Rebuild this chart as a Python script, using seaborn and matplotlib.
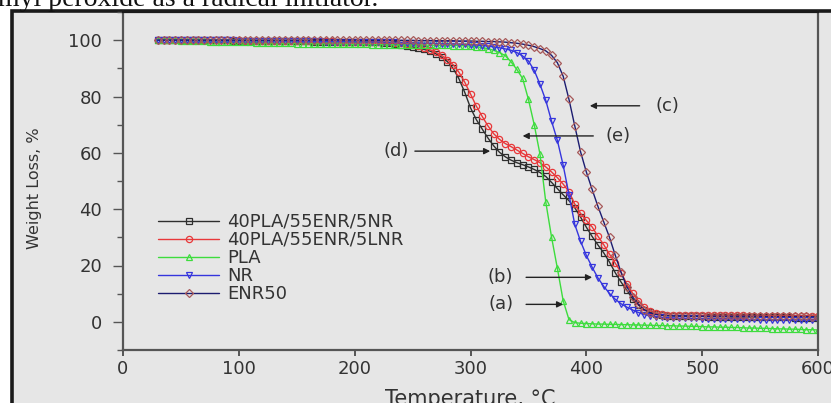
import numpy as np
import pandas as pd
import matplotlib
matplotlib.use("Agg")
import matplotlib.pyplot as plt
from matplotlib.patches import Rectangle
from matplotlib.ticker import MultipleLocator
import seaborn as sns

# ---------------- data ----------------
temperature = list(range(30, 601, 5))  # measurement grid, degC

w_5nr = [100.0, 100.0, 100.0, 100.0, 100.0, 99.9, 99.9, 99.9, 99.9, 99.9,
         99.9, 99.9, 99.9, 99.8, 99.8, 99.8, 99.8, 99.8, 99.8, 99.7,
         99.7, 99.7, 99.7, 99.6, 99.6, 99.6, 99.6, 99.5, 99.5, 99.5,
         99.5, 99.4, 99.4, 99.4, 99.3, 99.3, 99.3, 99.2, 99.2, 99.1,
         98.9, 98.6, 98.3, 98.0, 97.6, 97.2, 96.7, 96.1, 95.2, 94.0,
         92.4, 90.0, 86.3, 81.5, 76.0, 71.8, 68.5, 65.3, 62.5, 60.2,
         58.6, 57.4, 56.5, 55.8, 55.0, 54.1, 53.0, 51.6, 49.5, 47.3,
         45.1, 43.0, 40.5, 37.2, 33.6, 30.3, 27.3, 24.5, 21.2, 17.4,
         14.1, 11.2, 8.1, 5.9, 4.3, 3.4, 2.8, 2.4, 2.2, 2.1,
         2.0, 2.0, 1.9, 1.9, 1.9, 1.8, 1.8, 1.8, 1.8, 1.7,
         1.7, 1.7, 1.7, 1.7, 1.6, 1.6, 1.6, 1.6, 1.6, 1.6,
         1.5, 1.5, 1.5, 1.5, 1.5]

w_5lnr = [100.0, 100.0, 100.0, 100.0, 100.0, 100.0, 99.9, 99.9, 99.9, 99.9,
          99.9, 99.9, 99.9, 99.9, 99.9, 99.8, 99.8, 99.8, 99.8, 99.8,
          99.8, 99.7, 99.7, 99.7, 99.7, 99.7, 99.6, 99.6, 99.6, 99.6,
          99.6, 99.5, 99.5, 99.5, 99.5, 99.4, 99.4, 99.4, 99.3, 99.3,
          99.2, 99.1, 99.0, 98.8, 98.4, 97.9, 97.3, 96.6, 95.7, 94.6,
          93.1, 91.3, 88.6, 85.1, 80.9, 76.6, 73.0, 69.6, 66.8, 64.8,
          63.3, 62.2, 61.0, 59.8, 58.6, 57.6, 56.5, 55.0, 53.2, 51.2,
          48.9, 46.2, 41.8, 38.5, 36.0, 33.7, 30.4, 27.4, 24.0, 20.8,
          17.5, 13.4, 10.1, 7.4, 5.2, 3.9, 3.1, 2.7, 2.4, 2.3,
          2.3, 2.3, 2.3, 2.3, 2.3, 2.3, 2.3, 2.3, 2.3, 2.3,
          2.3, 2.3, 2.2, 2.2, 2.2, 2.2, 2.2, 2.2, 2.2, 2.2,
          2.2, 2.2, 2.2, 2.2, 2.2]

w_pla = [100.0, 100.0, 99.9, 99.9, 99.8, 99.8, 99.7, 99.6, 99.6, 99.5,
         99.5, 99.4, 99.4, 99.3, 99.3, 99.2, 99.2, 99.1, 99.1, 99.0,
         99.0, 98.9, 98.9, 98.9, 98.8, 98.8, 98.8, 98.7, 98.7, 98.7,
         98.6, 98.6, 98.6, 98.5, 98.5, 98.5, 98.5, 98.4, 98.4, 98.4,
         98.4, 98.4, 98.3, 98.3, 98.3, 98.3, 98.3, 98.2, 98.2, 98.2,
         98.2, 98.1, 98.1, 98.0, 97.9, 97.7, 97.4, 97.0, 96.4, 95.6,
         94.5, 92.3, 89.6, 86.4, 79.0, 70.0, 59.5, 42.5, 30.0, 19.0,
         7.5, 0.8, -0.3, -0.5, -0.6, -0.7, -0.8, -0.8, -0.9, -0.9,
         -1.0, -1.0, -1.1, -1.1, -1.2, -1.2, -1.3, -1.3, -1.4, -1.4,
         -1.5, -1.5, -1.6, -1.6, -1.7, -1.8, -1.8, -1.9, -1.9, -2.0,
         -2.0, -2.1, -2.2, -2.2, -2.3, -2.3, -2.4, -2.5, -2.5, -2.6,
         -2.6, -2.7, -2.8, -2.8, -2.9]

w_nr = [100.0, 100.0, 100.0, 100.0, 100.0, 100.0, 99.9, 99.9, 99.9, 99.9,
        99.9, 99.9, 99.9, 99.9, 99.8, 99.8, 99.8, 99.8, 99.8, 99.8,
        99.7, 99.7, 99.7, 99.7, 99.7, 99.6, 99.6, 99.6, 99.6, 99.5,
        99.5, 99.5, 99.5, 99.4, 99.4, 99.4, 99.3, 99.3, 99.3, 99.2,
        99.2, 99.2, 99.1, 99.1, 99.0, 99.0, 98.9, 98.9, 98.8, 98.8,
        98.7, 98.7, 98.6, 98.5, 98.4, 98.3, 98.1, 97.9, 97.6, 97.3,
        96.9, 96.4, 95.6, 94.4, 92.6, 89.3, 84.3, 78.6, 71.2, 64.4,
        55.6, 45.2, 34.6, 28.6, 23.6, 19.4, 15.6, 12.6, 10.1, 8.0,
        6.4, 5.2, 4.2, 3.3, 2.6, 2.1, 1.8, 1.6, 1.5, 1.4,
        1.3, 1.3, 1.2, 1.2, 1.1, 1.1, 1.1, 1.0, 1.0, 1.0,
        0.9, 0.9, 0.9, 0.9, 0.8, 0.8, 0.8, 0.8, 0.8, 0.7,
        0.7, 0.7, 0.6, 0.6, 0.6]

w_enr50 = [100.0, 100.0, 100.0, 100.0, 100.0, 100.0, 100.0, 100.0, 100.0, 100.0,
           100.0, 100.0, 100.0, 100.0, 100.0, 100.0, 100.0, 100.0, 100.0, 100.0,
           100.0, 100.0, 100.0, 100.0, 100.0, 100.0, 100.0, 100.0, 100.0, 100.0,
           100.0, 100.0, 100.0, 100.0, 100.0, 99.9, 99.9, 99.9, 99.9, 99.9,
           99.9, 99.9, 99.9, 99.9, 99.9, 99.8, 99.8, 99.8, 99.8, 99.8,
           99.8, 99.8, 99.7, 99.7, 99.7, 99.6, 99.6, 99.5, 99.5, 99.4,
           99.3, 99.1, 98.9, 98.6, 98.2, 97.7, 97.0, 96.2, 94.6, 92.0,
           87.2, 79.0, 69.6, 60.4, 53.2, 47.0, 41.0, 35.5, 30.0, 23.6,
           17.6, 12.5, 8.8, 6.2, 4.3, 3.2, 2.6, 2.3, 2.2, 2.1,
           2.1, 2.1, 2.0, 2.0, 2.0, 2.0, 2.0, 2.0, 2.0, 2.0,
           2.0, 2.0, 2.0, 2.0, 2.0, 1.9, 1.9, 1.9, 1.9, 1.9,
           1.9, 1.9, 1.9, 1.8, 1.8]

series_names = ["40PLA/55ENR/5NR", "40PLA/55ENR/5LNR", "PLA", "NR", "ENR50"]
series_values = [w_5nr, w_5lnr, w_pla, w_nr, w_enr50]

x_ticks = [0, 100, 200, 300, 400, 500, 600]
y_ticks = [0, 20, 40, 60, 80, 100]

# annotation labels: (label, text x, text y, arrow tail x, arrow head x)
callouts = [("(c)", 470, 76.7, 446, 403),
            ("(e)", 427, 66.0, 406, 345),
            ("(d)", 236, 60.6, 252, 317),
            ("(b)", 326, 15.8, 348, 405),
            ("(a)", 326, 6.2, 348, 380)]

header_text = "dicumyl peroxide as a radical initiator."

# ---------------- styling ----------------
line_colors = ["#2e2e2e", "#e8383a", "#3ddc3d", "#3535dd", "#1c1c70"]
edge_colors = ["#2e2e2e", "#e8383a", "#3ddc3d", "#3535dd", "#a85a5a"]
markers = ["s", "o", "^", "v", "D"]
msizes = [4.0, 4.5, 5.0, 5.0, 4.0]

sns.set_style("ticks")
plt.rcParams["font.family"] = ["DejaVu Sans"]

BG = "#e6e6e6"
W_PX, H_PX = 831, 403
fig = plt.figure(figsize=(W_PX / 100, H_PX / 100), dpi=100, facecolor="white")

# grey panel with dark frame (left and top visible)
frame = Rectangle((12 / W_PX, -0.05), 1.2, (H_PX - 11.5) / H_PX + 0.05,
                  transform=fig.transFigure, facecolor=BG, edgecolor="#1a1a1a",
                  linewidth=2.6, zorder=-10)
fig.patches.append(frame)

fig.text(378 / W_PX, 1 - 5.5 / H_PX, header_text, ha="right", va="baseline",
         fontsize=20, family=["Liberation Serif", "DejaVu Serif"], color="#111111",
         zorder=-5)

ax = fig.add_axes([123 / W_PX, 53 / H_PX, 695 / W_PX, 338 / H_PX])
ax.set_facecolor(BG)
ax.set_zorder(2)

for name, vals, lc, ec, mk, ms in zip(series_names, series_values, line_colors,
                                      edge_colors, markers, msizes):
    df = pd.DataFrame({"Temperature": temperature, "Weight": vals})
    sns.lineplot(data=df, x="Temperature", y="Weight", ax=ax, color=lc,
                 linewidth=1.0, marker=mk, markersize=ms, markerfacecolor="none",
                 markeredgecolor=ec, markeredgewidth=0.9, label=name,
                 estimator=None, sort=False)

ax.set_xlim(0, 600)
ax.set_ylim(-10, 110)
ax.set_xticks(x_ticks)
ax.set_yticks(y_ticks)
ax.yaxis.set_minor_locator(MultipleLocator(10))

for side in ["left", "right", "bottom", "top"]:
    ax.spines[side].set_visible(True)
    ax.spines[side].set_color("#555555")
    ax.spines[side].set_linewidth(1.6)
ax.spines["top"].set_color("#1a1a1a")

ax.tick_params(axis="y", which="major", direction="out", length=7, width=1.0,
               color="#555555", labelsize=13, labelcolor="#333333", pad=8)
ax.tick_params(axis="y", which="minor", direction="out", length=4.5, width=1.0,
               color="#555555")
ax.tick_params(axis="x", which="major", direction="out", length=4.5, width=1.4,
               color="#555555", labelsize=13, labelcolor="#333333", pad=2.5)

ax.set_ylabel("Weight Loss, %", fontsize=11.5, color="#333333")
ax.yaxis.set_label_coords(-0.117, 0.48)
ax.set_xlabel("Temperature, \u00b0C", fontsize=15, color="#333333", labelpad=8)

for lab, tx, ty, x0, x1 in callouts:
    ax.text(tx, ty, lab, ha="center", va="center", fontsize=13, color="#333333")
    ax.annotate("", xy=(x1, ty), xytext=(x0, ty),
                arrowprops=dict(arrowstyle="-|>", color="#222222", lw=1.0,
                                mutation_scale=9, shrinkA=0, shrinkB=0))

leg = ax.legend(loc="upper left", bbox_to_anchor=((158 - 123) / 695, (350 - 213) / 338),
                frameon=False, fontsize=13, handlelength=3.4, handletextpad=0.45,
                labelspacing=0.0, borderpad=0, borderaxespad=0)
for t in leg.get_texts():
    t.set_color("#333333")

fig.savefig("out.png", dpi=100, facecolor="white")
